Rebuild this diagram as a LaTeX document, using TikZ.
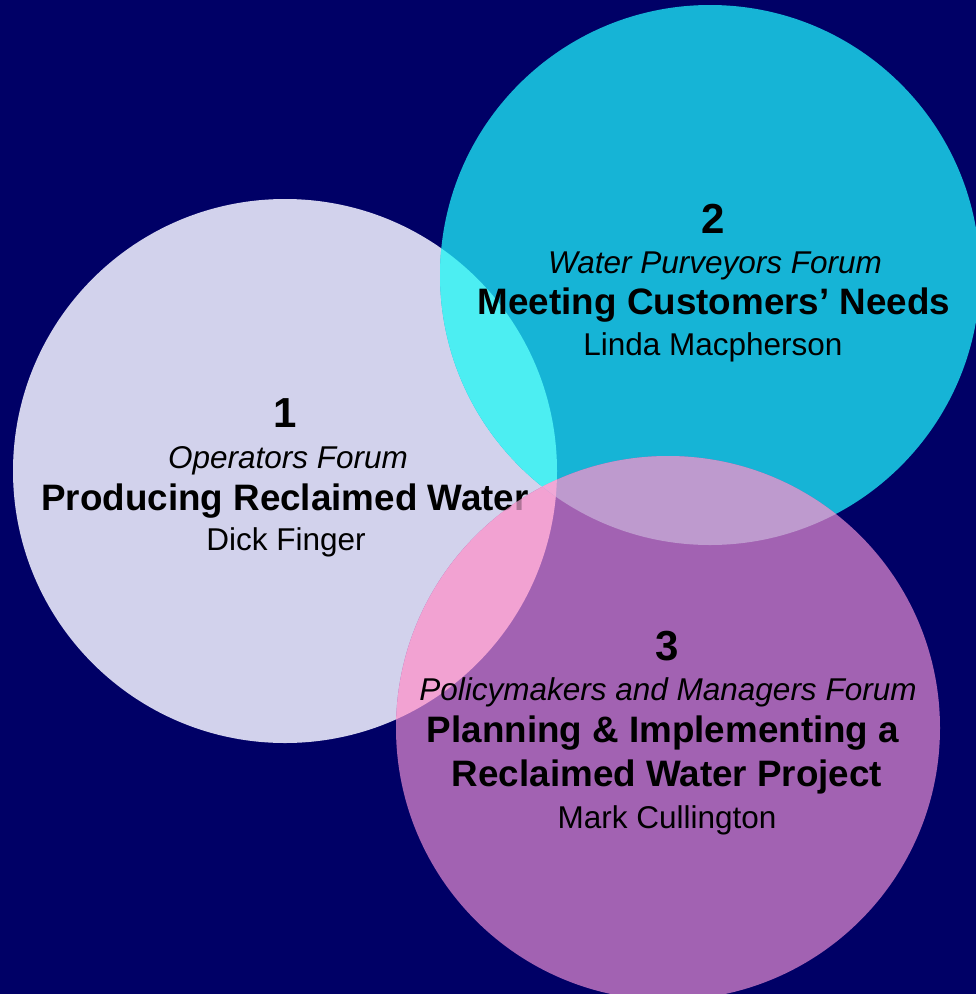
\documentclass[tikz,border=0pt]{standalone}
\usepackage{fontspec}
\setmainfont{Liberation Sans}
\definecolor{bgnavy}{HTML}{000066}
\definecolor{cwhite}{HTML}{D2D2EC}
\definecolor{ccyan}{HTML}{16B4D6}
\definecolor{cpink}{HTML}{A262B2}
\definecolor{cwc}{HTML}{4CEEF2}
\definecolor{cwp}{HTML}{F2A2D2}
\definecolor{ccp}{HTML}{BE9ACE}
\definecolor{cwcp}{HTML}{F0A8D6}
\tikzset{
  num/.style={font=\fontsize{42}{42}\selectfont\bfseries, text=black, inner sep=0pt, anchor=base},
  forum/.style={font=\fontsize{31.5}{31.5}\selectfont\itshape, text=black, inner sep=0pt, anchor=base},
  title/.style={font=\fontsize{36.8}{36.8}\selectfont\bfseries, text=black, inner sep=0pt, anchor=base},
  person/.style={font=\fontsize{31.5}{31.5}\selectfont, text=black, inner sep=0pt, anchor=base},
}
\begin{document}
\begin{tikzpicture}[x=1pt,y=-1pt]
\fill[bgnavy] (0,0) rectangle (976,994);
\useasboundingbox (0,0) rectangle (976,994);
\def\cw{(285,471) circle[radius=272]}
\def\cc{(710,275) circle[radius=270]}
\def\cp{(668,728) circle[radius=272]}
\begin{scope}
\clip (0,0) rectangle (976,994);
\fill[cwhite] \cw;
\fill[ccyan] \cc;
\fill[cpink] \cp;
\begin{scope}\clip \cw; \fill[cwc] \cc; \end{scope}
\begin{scope}\clip \cw; \fill[cwp] \cp; \end{scope}
\begin{scope}\clip \cc; \fill[ccp] \cp; \end{scope}
\begin{scope}\clip \cw; \clip \cc; \fill[cwcp] \cp; \end{scope}
\end{scope}
% circle 1
\node[num] (n1) at (285,427) {1};
\node[forum] (f1) at (288,468) {Operators Forum};
\node[title] (t1) at (285,510) {Producing Reclaimed Water};
\node[person] (p1) at (286,550) {Dick Finger};
% the end of circle 1's title lies under the pink circle
\begin{scope}
\clip (t1.north west) rectangle (t1.south east);
\clip \cp;
\fill[cwp, opacity=0.72] \cw;
\begin{scope}\clip \cc; \fill[cwcp, opacity=0.72] \cw; \end{scope}
\end{scope}
% circle 2
\node[num] (n2) at (713,233) {2};
\node[forum] (f2) at (715,273) {Water Purveyors Forum};
\node[title] (t2) at (714,314) {Meeting Customers’ Needs};
\node[person] (p2) at (713,355) {Linda Macpherson};
% circle 3
\node[num] (n3) at (667,660) {3};
\node[forum] (f3) at (668,700) {Policymakers and Managers Forum};
\node[title] (t3a) at (663,742) {Planning \& Implementing a};
\node[title] (t3b) at (667,786) {Reclaimed Water Project};
\node[person] (p3) at (667,828) {Mark Cullington};
\end{tikzpicture}
\end{document}
